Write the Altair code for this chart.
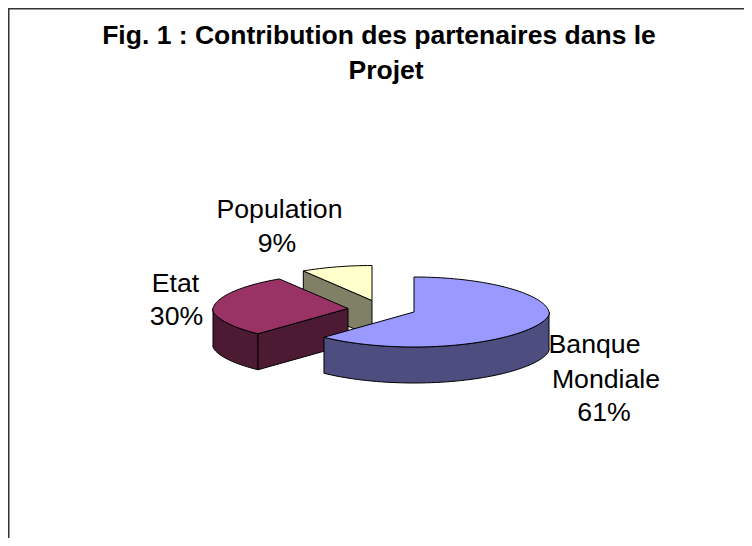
import math
import altair as alt
import pandas as pd

# Values
labels = ["Banque Mondiale", "Etat", "Population"]
shares = [61, 30, 9]
top_colors = ["#9999FF", "#993366", "#FFFFCC"]
side_colors = ["#4D4D80", "#4D1A33", "#808066"]
title_line = "Fig. 1 : Contribution des partenaires dans le"
title_wrap = "Projet"

W, H = 736, 530
RX, RY, DEPTH = 135, 35, 36
CENTERS = {"Banque Mondiale": (406, 304), "Etat": (340, 300.5), "Population": (364, 292.5)}


def pt(c, a, dy=0.0):
    # Rim of a tilted disc, with the near side drawn slightly wider than the far side
    t = math.radians(a)
    cs = math.cos(t)
    sx = 1 - 0.06 * cs
    vy = cs if cs >= 0 else -abs(cs) ** 1.25
    return (c[0] + RX * sx * math.sin(t), c[1] - RY * vy + dy)


def arc(c, a0, a1, dy=0.0):
    n = max(2, int(abs(a1 - a0) / 2))
    return [pt(c, a0 + (a1 - a0) * i / n, dy=dy) for i in range(n + 1)]


rows = []


def add(name, color, pts):
    pts = pts + [pts[0]]
    for i, (x, y) in enumerate(pts):
        rows.append({"poly": name, "x": x, "y": y, "o": i, "c": color})


spans = {}
start = 0.0
for lab, s in zip(labels, shares):
    spans[lab] = (start, start + s * 3.6)
    start += s * 3.6

# Population: cut face then top
a0, a1 = spans["Population"]
c = CENTERS["Population"]
e = pt(c, a0)
add("pop_side", side_colors[2], [c, e, (e[0], e[1] + DEPTH), (c[0], c[1] + DEPTH)])
add("pop_top", top_colors[2], [c] + arc(c, a0, a1))
# Etat: outer wall, cut face, top
a0, a1 = spans["Etat"]
c = CENTERS["Etat"]
add("etat_wall", side_colors[1], arc(c, a0, 270) + arc(c, 270, a0, dy=DEPTH))
e = pt(c, a0)
add("etat_cut", side_colors[1], [c, e, (e[0], e[1] + DEPTH), (c[0], c[1] + DEPTH)])
add("etat_top", top_colors[1], [c] + arc(c, a0, a1))
# Banque Mondiale: outer wall, top
a0, a1 = spans["Banque Mondiale"]
c = CENTERS["Banque Mondiale"]
add("bm_wall", side_colors[0], arc(c, 90, a1) + arc(c, a1, 90, dy=DEPTH))
add("bm_top", top_colors[0], [c] + arc(c, a0, a1))

xs = alt.Scale(domain=[0, W], range=[0, W])
ys = alt.Scale(domain=[0, H], range=[0, H])
x = alt.X("x:Q", scale=xs, axis=None)
y = alt.Y("y:Q", scale=ys, axis=None)

layers = []
frame_top = (
    alt.Chart(pd.DataFrame({"x": [0], "x2": [W], "y": [0]}))
    .mark_rule(color="#333333", strokeWidth=3)
    .encode(x=x, x2="x2:Q", y=y)
)
frame_left = (
    alt.Chart(pd.DataFrame({"x": [0], "y": [0], "y2": [H]}))
    .mark_rule(color="#333333", strokeWidth=3)
    .encode(x=x, y=y, y2="y2:Q")
)
layers += [frame_top, frame_left]

for name in ["pop_side", "pop_top", "etat_wall", "etat_cut", "etat_top", "bm_wall", "bm_top"]:
    sub = [r for r in rows if r["poly"] == name]
    layers.append(
        alt.Chart(pd.DataFrame(sub))
        .mark_line(fill=sub[0]["c"], stroke="black", strokeWidth=1, interpolate="linear", strokeJoin="round")
        .encode(x=x, y=y, order="o:Q")
    )

text_rows = pd.DataFrame(
    [
        {"x": 271.5, "y": 210, "t": "Population"},
        {"x": 269, "y": 244, "t": "9%"},
        {"x": 167.5, "y": 284, "t": "Etat"},
        {"x": 168.5, "y": 317, "t": "30%"},
        {"x": 586.5, "y": 345, "t": "Banque"},
        {"x": 598, "y": 380, "t": "Mondiale"},
        {"x": 596, "y": 413, "t": "61%"},
    ]
)
text = (
    alt.Chart(text_rows)
    .mark_text(font="Liberation Sans", fontSize=26.67, color="black", align="center", baseline="alphabetic")
    .encode(x=x, y=y, text="t:N")
)
wrap = (
    alt.Chart(pd.DataFrame({"x": [378], "y": [71], "t": [title_wrap]}))
    .mark_text(font="Liberation Sans", fontSize=26.5, fontWeight="bold", color="black", align="center", baseline="alphabetic")
    .encode(x=x, y=y, text="t:N")
)

chart = (
    alt.layer(*layers, text, wrap)
    .properties(
        width=W,
        height=H,
        padding=0,
        autosize=alt.AutoSizeParams(type="none"),
        title=alt.TitleParams(
            text=title_line,
            font="Liberation Sans",
            fontSize=26.5,
            fontWeight="bold",
            color="black",
            anchor="middle",
            baseline="alphabetic",
            offset=0,
            dy=64,
            dx=3,
        ),
    )
    .configure_view(stroke=None)
)
chart.save("out.html", embed_options={"renderer": "svg", "actions": False})
